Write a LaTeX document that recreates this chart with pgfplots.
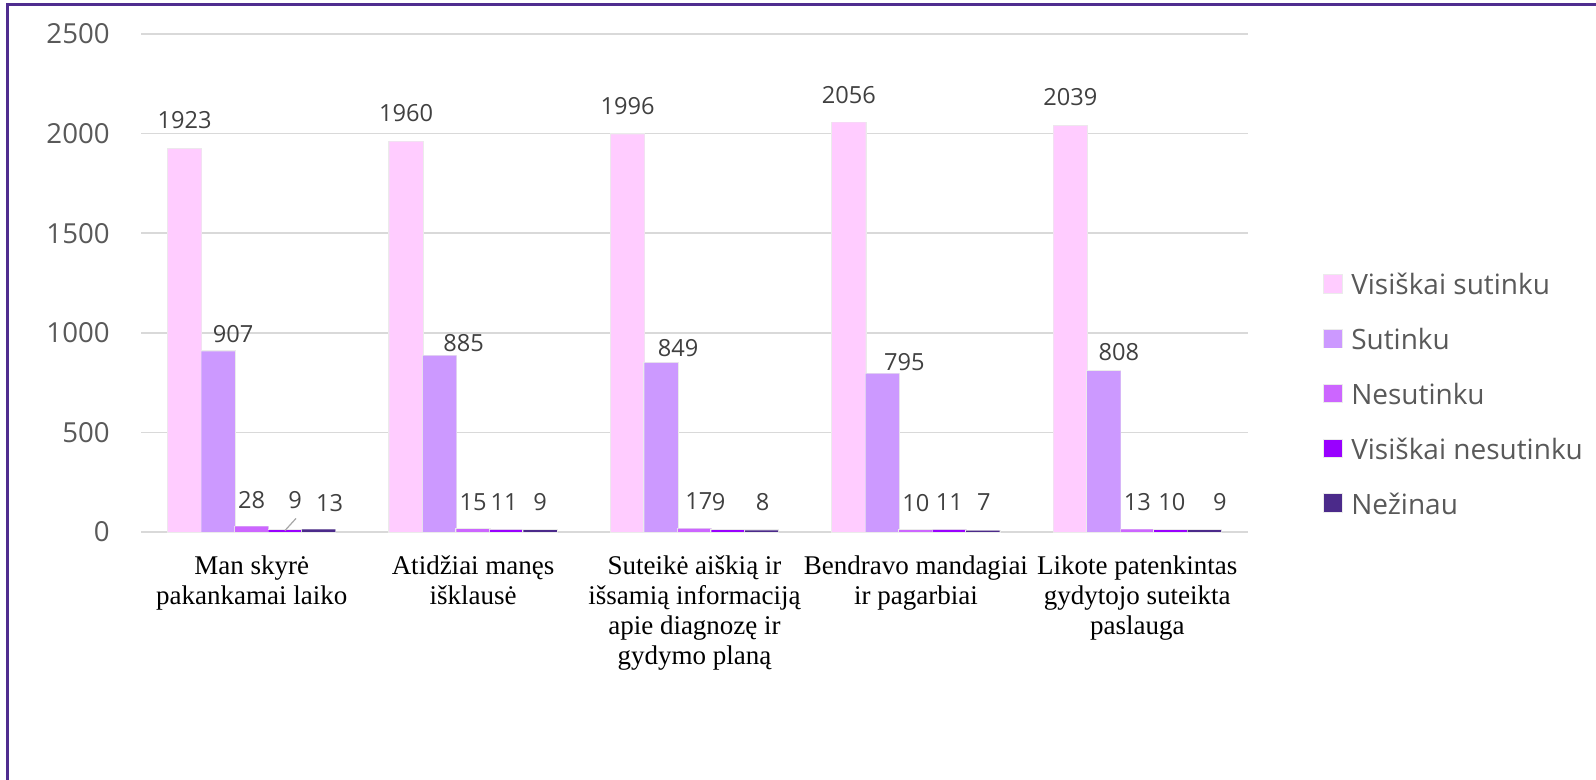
\documentclass[border=0pt]{standalone}
\usepackage{pgfplots}
\pgfplotsset{compat=1.18}
\usepackage{pgfplotstable}
\usepackage{fontspec}
\setmainfont{Open Sans}
\newfontfamily\catfont{Liberation Serif}

\definecolor{cVS}{HTML}{FFCCFF}
\definecolor{cS}{HTML}{CC99FF}
\definecolor{cN}{HTML}{CC66FF}
\definecolor{cVN}{HTML}{9900FF}
\definecolor{cNZ}{HTML}{4B2A8A}
\definecolor{gridgray}{HTML}{D9D9D9}
\definecolor{ticktext}{HTML}{595959}
\definecolor{labeltext}{HTML}{404040}
\definecolor{framecol}{HTML}{4F2D8F}

\pgfkeys{/pgf/number format/.cd, 1000 sep={}, assume math mode=true}

% x = category, y = value, dx/dy = label offset (pt)
\pgfplotstableread{
x y dx dy
0 1923 0 10
1 1960 0 10
2 1996 0 10
3 2056 0 9.7
4 2039 0 10
}\visiskaisutinku
\pgfplotstableread{
x y dx dy
0 907 7.5 4.2
1 885 12 2
2 849 8.5 3.1
3 795 11 1.5
4 808 7.5 5.1
}\sutinku
\pgfplotstableread{
x y dx dy
0 28 0 9.2
1 15 0 9.2
2 17 2.2 9.5
3 10 0 9.5
4 13 0 9.5
}\nesutinku
\pgfplotstableread{
x y dx dy
0 9 5 11
1 11 -1.3 9.6
2 9 -4.7 9.8
3 11 0 9.6
4 10 0.5 9.7
}\visiskainesutinku
\pgfplotstableread{
x y dx dy
0 13 5.5 8.9
1 9 0 9.8
2 8 0.5 9.9
3 7 0.5 9.9
4 9 7.8 9.8
}\nezinau

\begin{document}
\begin{tikzpicture}
\useasboundingbox (0,0) rectangle (798pt,390pt);
\draw[framecol, line width=1.2pt] (3.75pt,0pt) -- (3.75pt,387.75pt) -- (798pt,387.75pt);
\begin{axis}[
    at={(70.5pt,124pt)}, anchor=south west,
    scale only axis,
    width=553.5pt, height=249pt,
    xmin=-0.5, xmax=4.5,
    ymin=0, ymax=2500,
    ybar, bar width=0.1513,
    every axis plot/.append style={preaction={draw=black!8, line width=0.9pt}},
    xtick={0,...,4},
    xticklabels={{Man skyrė\\pakankamai laiko},
                 {Atidžiai manęs\\išklausė},
                 {Suteikė aiškią ir\\išsamią informaciją\\apie diagnozę ir\\gydymo planą},
                 {Bendravo mandagiai\\ir pagarbiai},
                 {Likote patenkintas\\gydytojo suteikta\\paslauga}},
    xticklabel style={font=\catfont\fontsize{13.5}{15}\selectfont, text=black,
        align=center, anchor=north, inner sep=0pt, yshift=-11.8pt},
    ytick={0,500,...,2500},
    yticklabel style={font=\fontsize{13.8}{16}\selectfont, text=ticktext,
        anchor=east, inner sep=0pt, xshift=-15.5pt},
    axis line style={draw=none},
    major tick length=0pt,
    ymajorgrids,
    major grid style={gridgray, line width=0.8pt},
    clip=false,
    nodes near coords,
    visualization depends on={\thisrow{dx}\as\dx},
    visualization depends on={\thisrow{dy}\as\dy},
    every node near coord/.append style={font=\fontsize{11.8}{14}\selectfont,
        text=labeltext, anchor=base, inner sep=0pt,
        xshift=\dx pt, yshift=\dy pt},
    legend cell align=left,
    legend style={at={(axis description cs:1.0678,0.278)}, anchor=west,
        draw=none, fill=none, inner sep=0pt, row sep=16.4pt,
        font=\fontsize{14}{17}\selectfont, text=ticktext,
        nodes={inner sep=0pt, text height=11pt, text depth=0pt},
        /tikz/every odd column/.append style={column sep=4pt}},
    legend image code/.code={\fill[#1] (0pt,-4.4pt) rectangle (9pt,4.4pt);},
]
\addplot[fill=cVS, draw=none, bar shift=-0.3026] table[x=x, y=y] {\visiskaisutinku};
\addplot[fill=cS, draw=none, bar shift=-0.1513] table[x=x, y=y] {\sutinku};
\addplot[fill=cN, draw=none, bar shift=0] table[x=x, y=y] {\nesutinku};
\addplot[fill=cVN, draw=none, bar shift=0.1513] table[x=x, y=y] {\visiskainesutinku};
\addplot[fill=cNZ, draw=none, bar shift=0.3026] table[x=x, y=y] {\nezinau};
\legend{Visiškai sutinku, Sutinku, Nesutinku, Visiškai nesutinku, Nežinau}
% leader line of the label "9" in the first group
\draw[black!35, line width=0.6pt] (axis cs:0.150,7) -- (axis cs:0.200,68);
\end{axis}
\end{tikzpicture}
\end{document}
